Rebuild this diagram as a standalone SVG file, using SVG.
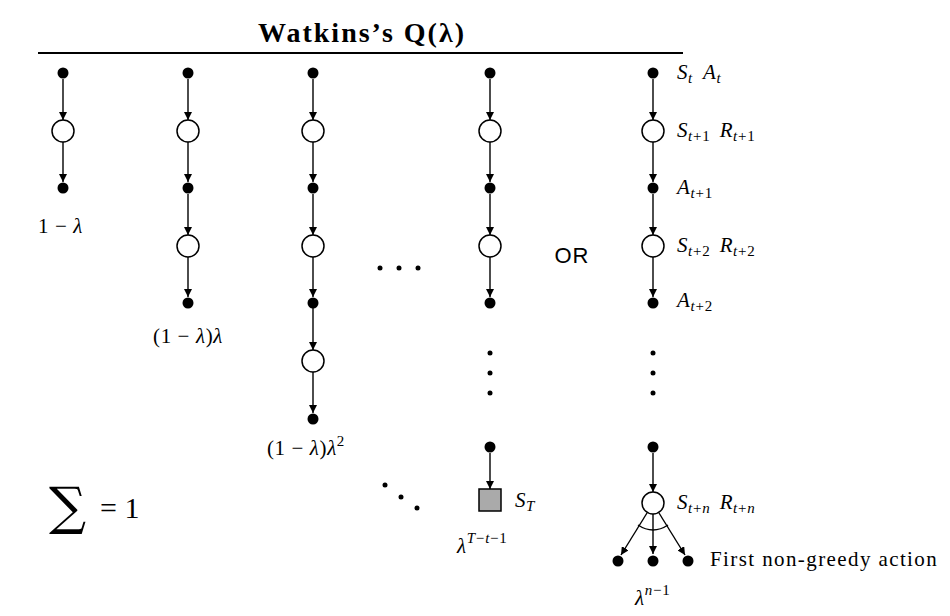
<svg xmlns="http://www.w3.org/2000/svg" width="950" height="616" viewBox="0 0 950 616">
<style>
.dot{fill:#000}
.st{fill:#fff;stroke:#000;stroke-width:1.5}
.term{fill:#aaa;stroke:#000;stroke-width:1.5}
.e{stroke:#000;stroke-width:1.4;fill:none}
.t{font-family:"Liberation Serif","DejaVu Serif",serif;font-size:21px;letter-spacing:0.6px;fill:#000}
.i{font-style:italic}
.s{font-size:15px;letter-spacing:0.8px}
.sd{fill:#000}
</style>
<defs>
<marker id="ah" viewBox="0 0 10 10" refX="10" refY="5" markerWidth="8" markerHeight="8" markerUnits="userSpaceOnUse" orient="auto">
<path d="M0,0 L10,5 L0,10 z" fill="#000"/>
</marker>
</defs>

<g id="title">
<text x="362" y="42" text-anchor="middle" font-family="Liberation Serif,DejaVu Serif,serif" font-size="28" font-weight="bold" letter-spacing="2">Watkins’s Q(λ)</text>
<line x1="38" y1="53" x2="683" y2="53" stroke="#000" stroke-width="2"/>
</g>

<g id="connectors">
<line class="e" x1="63" y1="79" x2="63" y2="120" marker-end="url(#ah)"/>
<line class="e" x1="63" y1="142" x2="63" y2="182" marker-end="url(#ah)"/>
<line class="e" x1="188" y1="79" x2="188" y2="120" marker-end="url(#ah)"/>
<line class="e" x1="188" y1="142" x2="188" y2="182" marker-end="url(#ah)"/>
<line class="e" x1="188" y1="194" x2="188" y2="235" marker-end="url(#ah)"/>
<line class="e" x1="188" y1="257" x2="188" y2="297" marker-end="url(#ah)"/>
<line class="e" x1="313" y1="79" x2="313" y2="120" marker-end="url(#ah)"/>
<line class="e" x1="313" y1="142" x2="313" y2="182" marker-end="url(#ah)"/>
<line class="e" x1="313" y1="194" x2="313" y2="235" marker-end="url(#ah)"/>
<line class="e" x1="313" y1="257" x2="313" y2="297" marker-end="url(#ah)"/>
<line class="e" x1="313" y1="308" x2="313" y2="350" marker-end="url(#ah)"/>
<line class="e" x1="313" y1="372" x2="313" y2="413" marker-end="url(#ah)"/>
<line class="e" x1="490" y1="79" x2="490" y2="120" marker-end="url(#ah)"/>
<line class="e" x1="490" y1="142" x2="490" y2="182" marker-end="url(#ah)"/>
<line class="e" x1="490" y1="194" x2="490" y2="235" marker-end="url(#ah)"/>
<line class="e" x1="490" y1="257" x2="490" y2="297" marker-end="url(#ah)"/>
<line class="e" x1="490" y1="453" x2="490" y2="489" marker-end="url(#ah)"/>
<line class="e" x1="653" y1="79" x2="653" y2="120" marker-end="url(#ah)"/>
<line class="e" x1="653" y1="142" x2="653" y2="182" marker-end="url(#ah)"/>
<line class="e" x1="653" y1="194" x2="653" y2="235" marker-end="url(#ah)"/>
<line class="e" x1="653" y1="257" x2="653" y2="297" marker-end="url(#ah)"/>
<line class="e" x1="653" y1="453" x2="653" y2="492" marker-end="url(#ah)"/>
<line class="e" x1="647" y1="513" x2="621" y2="555" marker-end="url(#ah)"/>
<line class="e" x1="653" y1="514" x2="653" y2="554" marker-end="url(#ah)"/>
<line class="e" x1="659" y1="513" x2="685" y2="555" marker-end="url(#ah)"/>
<path class="e" d="M638,525 Q653,535 668,525"/>
</g>

<g id="col1">
<circle class="dot" cx="63" cy="73" r="5.5"/>
<circle class="st" cx="63" cy="131" r="11"/>
<circle class="dot" cx="63" cy="188" r="5.5"/>
<text class="t" x="38" y="233">1 − <tspan class="i">λ</tspan></text>
</g>

<g id="col2">
<circle class="dot" cx="188" cy="73" r="5.5"/>
<circle class="st" cx="188" cy="131" r="11"/>
<circle class="dot" cx="188" cy="188" r="5.5"/>
<circle class="st" cx="188" cy="246" r="11"/>
<circle class="dot" cx="188" cy="303" r="5.5"/>
<text class="t" x="188" y="343" text-anchor="middle">(1 − <tspan class="i">λ</tspan>)<tspan class="i">λ</tspan></text>
</g>

<g id="col3">
<circle class="dot" cx="313" cy="73" r="5.5"/>
<circle class="st" cx="313" cy="131" r="11"/>
<circle class="dot" cx="313" cy="188" r="5.5"/>
<circle class="st" cx="313" cy="246" r="11"/>
<circle class="dot" cx="313" cy="303" r="5.5"/>
<circle class="st" cx="313" cy="361" r="11"/>
<circle class="dot" cx="313" cy="419" r="5.5"/>
<text class="t" x="267" y="455">(1 − <tspan class="i">λ</tspan>)<tspan class="i">λ</tspan><tspan class="s" dy="-9">2</tspan></text>
</g>

<g id="col4">
<circle class="dot" cx="490" cy="73" r="5.5"/>
<circle class="st" cx="490" cy="131" r="11"/>
<circle class="dot" cx="490" cy="188" r="5.5"/>
<circle class="st" cx="490" cy="246" r="11"/>
<circle class="dot" cx="490" cy="303" r="5.5"/>
<circle class="sd" cx="490" cy="353" r="2.5"/>
<circle class="sd" cx="490" cy="373" r="2.5"/>
<circle class="sd" cx="490" cy="393" r="2.5"/>
<circle class="dot" cx="490" cy="447" r="5.5"/>
<rect class="term" x="479" y="489" width="22" height="22"/>
<text class="t i" x="515" y="507">S<tspan class="s" dy="4">T</tspan></text>
<text class="t" x="457" y="553"><tspan class="i">λ</tspan><tspan class="s" dy="-10"><tspan class="i">T</tspan>−<tspan class="i">t</tspan>−1</tspan></text>
</g>

<g id="col5">
<circle class="dot" cx="653" cy="73" r="5.5"/>
<circle class="st" cx="653" cy="131" r="11"/>
<circle class="dot" cx="653" cy="188" r="5.5"/>
<circle class="st" cx="653" cy="246" r="11"/>
<circle class="dot" cx="653" cy="303" r="5.5"/>
<circle class="sd" cx="653" cy="353" r="2.5"/>
<circle class="sd" cx="653" cy="373" r="2.5"/>
<circle class="sd" cx="653" cy="393" r="2.5"/>
<circle class="dot" cx="653" cy="447" r="5.5"/>
<circle class="st" cx="653" cy="503" r="11"/>
<circle class="dot" cx="618" cy="561" r="5.5"/>
<circle class="dot" cx="653" cy="561" r="5.5"/>
<circle class="dot" cx="688" cy="561" r="5.5"/>
<text class="t" x="677" y="79"><tspan class="i">S</tspan><tspan class="s i" dy="4">t</tspan><tspan dy="-4" dx="10" class="i">A</tspan><tspan class="s i" dy="4">t</tspan></text>
<text class="t" x="677" y="137"><tspan class="i">S</tspan><tspan class="s" dy="4"><tspan class="i">t</tspan>+1</tspan><tspan dy="-4" dx="9" class="i">R</tspan><tspan class="s" dy="4"><tspan class="i">t</tspan>+1</tspan></text>
<text class="t" x="677" y="194"><tspan class="i">A</tspan><tspan class="s" dy="4"><tspan class="i">t</tspan>+1</tspan></text>
<text class="t" x="677" y="252"><tspan class="i">S</tspan><tspan class="s" dy="4"><tspan class="i">t</tspan>+2</tspan><tspan dy="-4" dx="9" class="i">R</tspan><tspan class="s" dy="4"><tspan class="i">t</tspan>+2</tspan></text>
<text class="t" x="677" y="307"><tspan class="i">A</tspan><tspan class="s" dy="4"><tspan class="i">t</tspan>+2</tspan></text>
<text class="t" x="677" y="509"><tspan class="i">S</tspan><tspan class="s" dy="4"><tspan class="i">t</tspan>+<tspan class="i">n</tspan></tspan><tspan dy="-4" dx="9" class="i">R</tspan><tspan class="s" dy="4"><tspan class="i">t</tspan>+<tspan class="i">n</tspan></tspan></text>
<text class="t" x="710" y="566" style="letter-spacing:1.4px">First non-greedy action</text>
<text class="t" x="635" y="605"><tspan class="i">λ</tspan><tspan class="s" dy="-10"><tspan class="i">n</tspan>−1</tspan></text>
</g>

<g id="misc">
<circle class="sd" cx="380" cy="268" r="2.5"/>
<circle class="sd" cx="399" cy="268" r="2.5"/>
<circle class="sd" cx="418" cy="268" r="2.5"/>
<circle class="sd" cx="385" cy="485" r="2.5"/>
<circle class="sd" cx="401" cy="497" r="2.5"/>
<circle class="sd" cx="417" cy="508" r="2.5"/>
<text x="572" y="263" text-anchor="middle" font-family="Liberation Sans,Arial,sans-serif" font-size="22" letter-spacing="1">OR</text>
<text x="49" y="524" font-family="DejaVu Serif,serif" font-size="52">∑</text>
<text x="100" y="518" font-family="Liberation Serif,DejaVu Serif,serif" font-size="30">= 1</text>
</g>
</svg>
